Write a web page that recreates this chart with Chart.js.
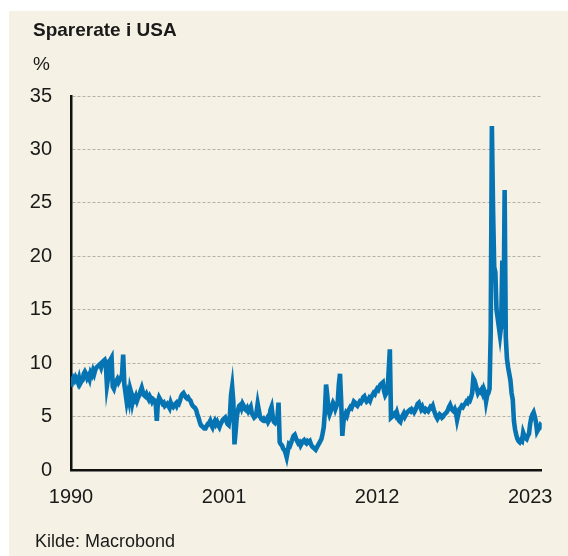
<!DOCTYPE html>
<html><head><meta charset="utf-8">
<script src="https://cdn.jsdelivr.net/npm/chart.js@4.4.0/dist/chart.umd.min.js"></script>
<style>
html,body{margin:0;padding:0;background:#fff;width:568px;height:556px;overflow:hidden;}
#panel{position:absolute;left:9px;top:11px;width:559px;height:545px;background:#f5f1e4;}
#wrap{position:absolute;left:0;top:0;width:568px;height:556px;}
.t{position:absolute;font-family:"Liberation Sans",Arial,sans-serif;color:#1a1a1a;line-height:1;white-space:nowrap;}
</style></head>
<body>
<div id="panel"></div>
<div id="wrap"><canvas id="c" width="568" height="556"></canvas></div>
<div class="t" style="left:33px;top:20px;font-size:19px;font-weight:bold">Sparerate i USA</div>
<div class="t" style="left:33px;top:54px;font-size:19px">%</div>
<div class="t" style="left:35px;top:532px;font-size:18px">Kilde: Macrobond</div>
<script>
// Monthly US personal saving rate (%), Jan 1990 – Nov 2023
const startYear = 1990;
const savingRate = [
  7.8, 8.3, 8.6, 8.4, 8.7, 8.5, 8.2, 8.6, 8.1, 8.3, 8.4, 9.0,       // 1990
  9.2, 9.0, 8.6, 8.8, 8.5, 9.1, 8.9, 9.3, 9.0, 9.4, 9.6, 9.7,       // 1991
  9.8, 9.9, 9.6, 10.0, 10.2, 10.3, 9.9, 7.9, 8.6, 10.2, 10.3, 10.5, // 1992
  7.8, 7.6, 8.0, 8.3, 8.5, 8.2, 8.4, 8.6, 8.9, 10.8, 8.0, 7.2,      // 1993
  6.4, 7.0, 6.5, 7.6, 7.2, 6.3, 6.8, 6.6, 6.9, 6.5, 6.8, 7.0,       // 1994
  7.4, 7.7, 7.3, 7.0, 6.9, 7.1, 6.8, 6.6, 6.9, 6.7, 6.4, 6.6,       // 1995
  6.5, 6.3, 4.6, 6.4, 6.8, 6.6, 6.4, 6.2, 6.3, 6.0, 6.1, 6.2,       // 1996
  6.0, 5.8, 6.3, 6.0, 5.9, 6.1, 6.2, 6.0, 6.3, 6.2, 6.5, 6.9,       // 1997
  7.1, 7.2, 7.0, 6.8, 6.7, 6.8, 6.6, 6.5, 6.2, 6.0, 5.9, 5.8,       // 1998
  5.6, 5.2, 4.9, 4.5, 4.2, 4.1, 4.0, 3.9, 3.9, 4.1, 4.3, 4.4,       // 1999
  4.6, 4.2, 4.0, 4.4, 4.6, 4.3, 4.5, 4.2, 4.0, 4.3, 4.5, 4.7,       // 2000
  4.8, 4.9, 4.6, 4.3, 4.2, 5.0, 7.0, 7.8, 6.4, 2.4, 3.6, 5.0,       // 2001
  5.6, 6.0, 6.1, 5.8, 6.2, 6.0, 5.7, 5.6, 5.8, 5.5, 5.7, 5.9,       // 2002
  5.3, 5.1, 4.9, 5.0, 5.4, 6.2, 5.6, 5.0, 4.8, 4.7, 4.8, 4.6,       // 2003
  4.6, 4.8, 4.5, 4.7, 5.6, 5.9, 5.0, 4.5, 4.4, 4.6, 4.8, 6.3,       // 2004
  2.6, 2.4, 2.3, 2.0, 1.9, 1.6, 1.2, 1.8, 2.4, 2.3, 2.6, 2.9,       // 2005
  3.2, 3.3, 3.0, 2.7, 2.5, 2.6, 2.3, 2.5, 2.7, 2.8, 2.6, 2.5,       // 2006
  2.7, 2.6, 2.7, 2.4, 2.2, 2.1, 2.0, 1.9, 2.1, 2.3, 2.5, 2.7,       // 2007
  2.9, 3.4, 4.0, 5.5, 8.0, 7.0, 5.6, 5.2, 5.5, 6.0, 6.3, 6.1,       // 2008
  5.7, 6.0, 6.3, 8.0, 9.0, 6.5, 3.2, 4.5, 5.0, 5.3, 5.1, 5.5,       // 2009
  5.7, 5.9, 5.8, 6.1, 6.4, 6.3, 6.1, 6.0, 6.2, 6.4, 6.3, 6.5,       // 2010
  6.8, 6.9, 6.6, 6.4, 6.5, 6.7, 6.5, 6.8, 7.0, 7.2, 7.1, 7.4,       // 2011
  7.6, 7.5, 7.8, 8.0, 8.1, 8.2, 7.4, 7.0, 7.2, 7.3, 9.3, 11.3,      // 2012
  4.9, 5.0, 5.2, 5.3, 5.1, 5.4, 5.0, 4.6, 4.5, 4.9, 5.1, 5.3,       // 2013
  5.0, 5.2, 5.4, 5.5, 5.6, 5.5, 5.7, 5.6, 5.4, 5.6, 5.9, 6.2,       // 2014
  6.3, 6.0, 5.7, 5.9, 5.6, 5.5, 5.7, 5.6, 5.5, 5.7, 5.9, 5.8,       // 2015
  6.0, 5.6, 5.3, 5.0, 4.8, 5.0, 5.2, 5.1, 4.9, 5.0, 5.2, 5.3,       // 2016
  5.4, 5.6, 5.9, 6.1, 5.8, 5.6, 5.5, 5.7, 5.4, 4.7, 5.2, 5.7,       // 2017
  5.8, 6.0, 5.9, 6.1, 6.2, 6.4, 6.3, 6.6, 6.5, 6.8, 7.2, 8.6,       // 2018
  8.4, 8.0, 7.6, 7.2, 7.4, 7.3, 7.5, 7.2, 7.6, 7.3, 6.4, 7.0,       // 2019
  7.2, 7.6, 12.9, 32.2, 24.5, 19.0, 18.5, 15.0, 14.2, 13.4, 12.6, 13.5, // 2020
  19.6, 13.2, 26.2, 12.4, 10.4, 9.6, 9.0, 8.4, 7.2, 6.6, 4.6, 3.8,  // 2021
  3.3, 2.9, 2.7, 2.6, 2.8, 2.7, 3.5, 3.2, 3.0, 2.9, 3.2, 3.4,       // 2022
  4.3, 4.9, 5.2, 5.4, 5.0, 4.5, 3.6, 3.8, 3.9, 4.2, 4.1             // 2023
];
const tickYears = [1990, 2001, 2012, 2023];
const yMin = 0, yMax = 35, yStep = 5;

const points = savingRate.map((v, i) => ({ x: startYear + i / 12, y: v }));
const lastX = startYear + (savingRate.length - 1) / 12;
const tickFont = { family: '"Liberation Sans", Arial, sans-serif', size: 20 };

new Chart(document.getElementById('c'), {
  type: 'line',
  data: { datasets: [{
    data: points,
    borderColor: '#0673b3',
    borderWidth: 4.6,
    pointRadius: 0,
    tension: 0,
    fill: false
  }]},
  options: {
    responsive: false,
    devicePixelRatio: 1,
    animation: false,
    layout: { padding: { left: 0, right: 25, top: 96, bottom: 0 } },
    plugins: { legend: { display: false }, tooltip: { enabled: false } },
    scales: {
      x: {
        type: 'linear',
        min: startYear,
        max: lastX,
        afterBuildTicks: s => { s.ticks = tickYears.map(v => ({ value: v })); },
        afterFit: s => { s.height = 86; },
        ticks: { font: tickFont, color: '#1a1a1a', padding: 15, maxRotation: 0, autoSkip: false,
                 callback: v => String(v) },
        grid: { display: false, drawTicks: false },
        border: { display: true, color: '#111', width: 2.5 }
      },
      y: {
        min: yMin, max: yMax,
        afterFit: s => { s.width = 71; },
        ticks: { stepSize: yStep, font: tickFont, color: '#1a1a1a', padding: 19 },
        grid: { drawTicks: false, lineWidth: 1,
                color: c => (c.tick && c.tick.value === 0) ? 'rgba(0,0,0,0)' : '#b6b1a5' },
        border: { display: true, color: '#111', width: 2.5, dash: [3, 2] }
      }
    }
  }
});
</script>
</body></html>
